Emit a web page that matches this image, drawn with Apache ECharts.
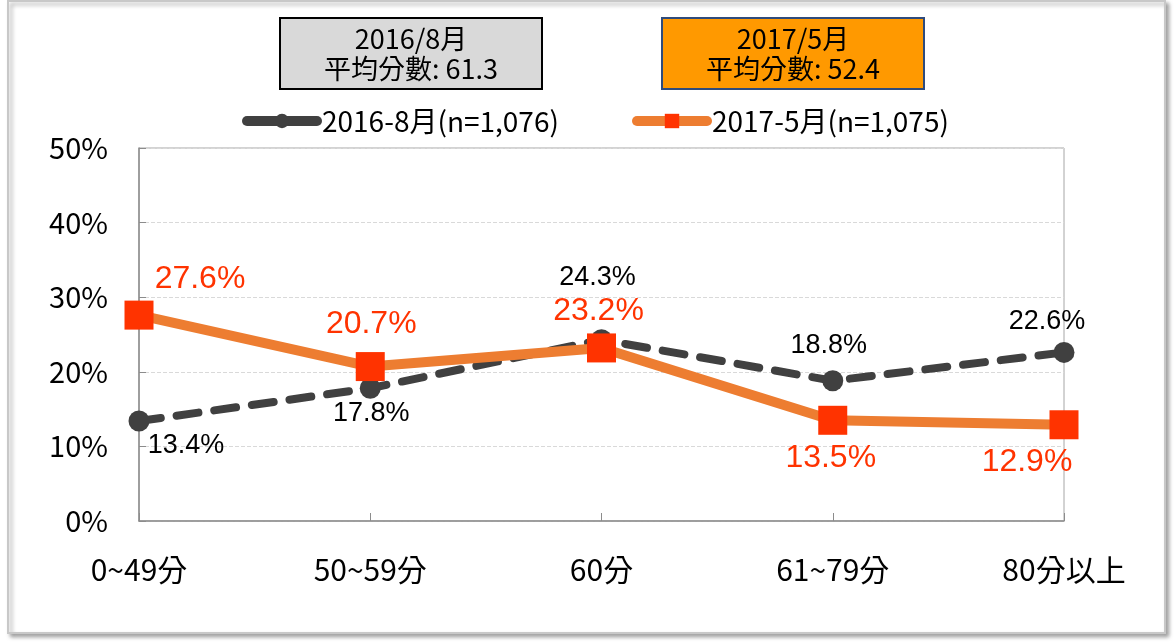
<!DOCTYPE html>
<html>
<head>
<meta charset="utf-8">
<script src="https://cdn.jsdelivr.net/npm/echarts@6/dist/echarts.min.js"></script>
<style>
  html, body { margin: 0; padding: 0; background: #fff; }
  #main { width: 1174px; height: 642px; }
</style>
</head>
<body>
<div id="main"></div>
<script>
var categories = ['0~49分', '50~59分', '60分', '61~79分', '80分以上'];
var seriesNames = ['2016-8月(n=1,076)', '2017-5月(n=1,075)'];
var values2016 = [13.4, 17.8, 24.3, 18.8, 22.6];
var values2017 = [27.6, 20.7, 23.2, 13.5, 12.9];
var yTicks = [0, 10, 20, 30, 40, 50];
var boxTitles = ['2016/8月', '2017/5月'];
var boxScores = ['平均分數: 61.3', '平均分數: 52.4'];

var FONT = '"Noto Sans CJK TC", "Noto Sans", sans-serif';
var LABEL_FONT = '"Liberation Sans", Arial, sans-serif';

// label offsets from each point (style only)
var off2016 = [[47, 25], [1, 25], [-4, -62], [-4, -35], [-17, -31]];
var off2017 = [[61, -36], [1, -42], [-3, -37], [-2, 38], [-37, 37]];

function withLabels(vals, off) {
  return vals.map(function (v, i) {
    return { value: v, label: { position: 'inside', offset: off[i] } };
  });
}

function box(left, fill, stroke, title, score) {
  return {
    type: 'group', left: left, top: 17,
    children: [
      { type: 'rect', shape: { x: 0, y: 0, width: 262, height: 71 },
        style: { fill: fill, stroke: stroke, lineWidth: 2 } },
      { type: 'text', style: { x: 131, y: 21, text: title, align: 'center', verticalAlign: 'middle',
        font: '27px ' + FONT, fill: '#000' } },
      { type: 'text', style: { x: 131, y: 51, text: score, align: 'center', verticalAlign: 'middle',
        font: '27px ' + FONT, fill: '#000' } }
    ]
  };
}

var chart = echarts.init(document.getElementById('main'));

var legendBase = {
  top: 102,
  itemWidth: 70,
  itemHeight: 18,
  lineStyle: { width: 10, cap: 'round', type: 'solid' },
  textStyle: { fontSize: 28, color: '#000', fontFamily: FONT }
};

chart.setOption({
  animation: false,
  textStyle: { fontFamily: FONT },
  graphic: [
    {
      type: 'rect', z: -10,
      shape: { x: 8, y: 1, width: 1157, height: 632 },
      style: { fill: '#fff', stroke: '#c8c8c8', lineWidth: 2,
        shadowBlur: 4, shadowOffsetX: 3, shadowOffsetY: 3, shadowColor: 'rgba(0,0,0,0.35)' }
    },
    box(279, '#d9d9d9', '#000', boxTitles[0], boxScores[0]),
    box(661, '#ff9900', '#2f4b7c', boxTitles[1], boxScores[1])
  ],
  legend: [
    Object.assign({ left: 237, data: [seriesNames[0]] }, legendBase),
    Object.assign({ left: 627, data: [seriesNames[1]] }, legendBase)
  ],
  grid: {
    left: 139, right: 110, top: 148, bottom: 121,
    show: true, borderColor: '#a6a6a6', borderWidth: 1
  },
  xAxis: {
    type: 'category',
    data: categories,
    boundaryGap: false,
    axisLine: { lineStyle: { color: '#8c8c8c', width: 1.5 } },
    axisTick: { show: true, inside: true, length: 8, lineStyle: { color: '#8c8c8c' } },
    axisLabel: { fontSize: 30, color: '#000', margin: 34, fontFamily: FONT },
    splitLine: { show: false }
  },
  yAxis: {
    type: 'value',
    min: yTicks[0], max: yTicks[yTicks.length - 1], interval: 10,
    axisLine: { show: true, lineStyle: { color: '#8c8c8c', width: 1.5 } },
    axisTick: { show: true, inside: true, length: 7, lineStyle: { color: '#8c8c8c' } },
    axisLabel: { fontSize: 29, color: '#000', margin: 31, formatter: '{value}%', fontFamily: FONT },
    splitLine: { show: true, lineStyle: { color: '#d9d9d9', type: 'dashed' } }
  },
  series: [
    {
      name: seriesNames[0],
      type: 'line',
      data: withLabels(values2016, off2016),
      symbol: 'circle',
      symbolSize: 21,
      itemStyle: { color: '#404040' },
      lineStyle: { color: '#404040', width: 8, type: [22, 16], cap: 'round' },
      label: { show: true, formatter: '{c}%', fontSize: 27, color: '#000', fontFamily: LABEL_FONT },
      z: 2
    },
    {
      name: seriesNames[1],
      type: 'line',
      data: withLabels(values2017, off2017),
      symbol: 'rect',
      symbolSize: 29,
      itemStyle: { color: '#ff3300' },
      lineStyle: { color: '#ed7d31', width: 10 },
      label: { show: true, formatter: '{c}%', fontSize: 32, color: '#ff3300', fontFamily: LABEL_FONT },
      z: 3
    }
  ]
});
</script>
</body>
</html>
